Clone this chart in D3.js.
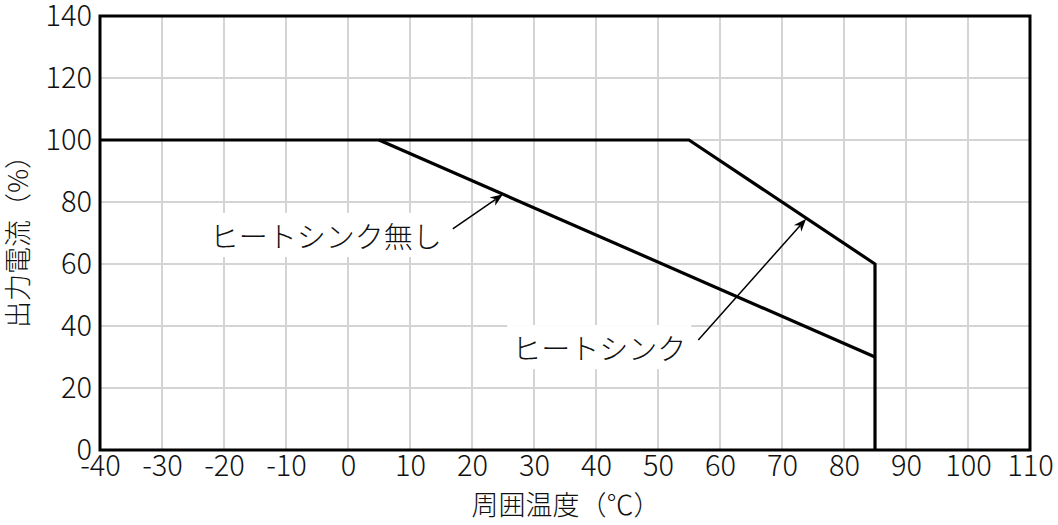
<!DOCTYPE html>
<html><head><meta charset="utf-8">
<script src="https://cdn.jsdelivr.net/npm/d3@7"></script>
<style>
html,body{margin:0;padding:0;background:#fff;}
svg{display:block;}
text{font-family:"Noto Sans CJK JP","Noto Sans",sans-serif;fill:#111;font-weight:300;}
</style></head>
<body>
<svg id="chart" width="1058" height="525"></svg>
<script>
const xTicks = [-40,-30,-20,-10,0,10,20,30,40,50,60,70,80,90,100,110];
const yTicks = [0,20,40,60,80,100,120,140];
const heatSinkTemp = [-40,55,85,85];
const heatSinkCurrent = [100,100,60,0];
const noHeatSinkTemp = [5,85];
const noHeatSinkCurrent = [100,30];
const labelTexts = ["ヒートシンク無し","ヒートシンク"];
const labelAnchors = [[-22.3,65.2],[26.5,29]];
const arrowTails = [[16.9,71.3],[56.5,35.5]];
const arrowTips = [[25,82.5],[73.9,74.6]];
const xTitle = "周囲温度（℃）";
const yTitle = "出力電流（%）";

const W=1058,H=525;
const m={left:100,right:28,top:16,bottom:75};
const svg=d3.select("#chart");
const x=d3.scaleLinear().domain([-40,110]).range([m.left,W-m.right]);
const y=d3.scaleLinear().domain([0,140]).range([H-m.bottom,m.top]);
const FF='"Noto Sans CJK JP","Noto Sans",sans-serif';

// grid
const g=svg.append("g");
g.selectAll("line.v").data(xTicks.slice(1,-1)).join("line")
 .attr("x1",d=>x(d)).attr("x2",d=>x(d)).attr("y1",y(0)).attr("y2",y(140))
 .attr("stroke","#d4d4d4").attr("stroke-width",2);
g.selectAll("line.h").data(yTicks.slice(1,-1)).join("line")
 .attr("y1",d=>y(d)).attr("y2",d=>y(d)).attr("x1",x(-40)).attr("x2",x(110))
 .attr("stroke","#d4d4d4").attr("stroke-width",2);

// axes labels
const xAxis=d3.axisBottom(x).tickValues(xTicks).tickSize(0).tickPadding(5).tickFormat(d=>String(d));
const ax=svg.append("g").attr("transform",`translate(0,${y(0)})`).call(xAxis);
ax.select(".domain").remove();
ax.selectAll("text").attr("font-size",29).attr("fill","#111").attr("dy","0.72em")
  .style("font-family",FF).style("font-weight",300);
const yAxis=d3.axisLeft(y).tickValues(yTicks).tickSize(0).tickPadding(8).tickFormat(d=>String(d));
const ay=svg.append("g").attr("transform",`translate(${x(-40)},0)`).call(yAxis);
ay.select(".domain").remove();
ay.selectAll("text").attr("font-size",29).attr("fill","#111").attr("dy","0.33em")
  .style("font-family",FF).style("font-weight",300);

// titles
svg.append("text").attr("x",566).attr("y",515).attr("text-anchor","middle")
  .attr("font-size",27).text(xTitle);
svg.append("text").attr("transform",`translate(16,235) rotate(-90)`).attr("text-anchor","middle")
  .attr("dominant-baseline","central").attr("font-size",27).text(yTitle);

// labels with white background
labelTexts.forEach((t,i)=>{
  const lx=x(labelAnchors[i][0]), ly=y(labelAnchors[i][1]);
  const txt=svg.append("text").attr("x",lx).attr("y",ly).attr("font-size",29).text(t);
  const bb=txt.node().getBBox();
  svg.insert("rect",()=>txt.node()).attr("x",bb.x-5).attr("y",bb.y-1).attr("width",bb.width+10).attr("height",bb.height+2).attr("fill","#fff");
});

// data lines
const line=d3.line().x(d=>x(d[0])).y(d=>y(d[1]));
svg.append("path").datum(heatSinkTemp.map((t,i)=>[t,heatSinkCurrent[i]]))
 .attr("d",line).attr("fill","none").attr("stroke","#000").attr("stroke-width",3.2).attr("stroke-linejoin","miter");
svg.append("path").datum(noHeatSinkTemp.map((t,i)=>[t,noHeatSinkCurrent[i]]))
 .attr("d",line).attr("fill","none").attr("stroke","#000").attr("stroke-width",3.2);

// arrows
arrowTails.forEach((a,i)=>{
  const x1=x(a[0]),y1=y(a[1]),x2=x(arrowTips[i][0]),y2=y(arrowTips[i][1]);
  const ang=Math.atan2(y2-y1,x2-x1);
  const L=13,Wd=5,back=9;
  const bx=x2-Math.cos(ang)*L, by=y2-Math.sin(ang)*L;
  const px=-Math.sin(ang), py=Math.cos(ang);
  const ix=x2-Math.cos(ang)*back, iy=y2-Math.sin(ang)*back;
  svg.append("line").attr("x1",x1).attr("y1",y1).attr("x2",ix).attr("y2",iy)
   .attr("stroke","#000").attr("stroke-width",1.5);
  svg.append("path").attr("d",`M${x2},${y2}L${bx+px*Wd},${by+py*Wd}L${ix},${iy}L${bx-px*Wd},${by-py*Wd}Z`).attr("fill","#000");
});

// frame
svg.append("rect").attr("x",x(-40)).attr("y",y(140)).attr("width",x(110)-x(-40)).attr("height",y(0)-y(140))
 .attr("fill","none").attr("stroke","#000").attr("stroke-width",3);
</script>
</body></html>
